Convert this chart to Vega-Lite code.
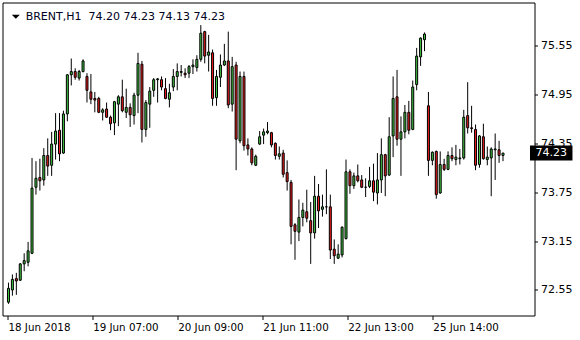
{
  "$schema": "https://vega.github.io/schema/vega-lite/v6.json",
  "width": 532,
  "height": 313,
  "autosize": {"type": "none"},
  "padding": {"left": 2.5, "top": 2.5, "right": 45.5, "bottom": 24.5},
  "background": "white",
  "config": {"font": "DejaVu Sans", "view": {"stroke": "black", "strokeWidth": 1}},
  "datasets": {
    "candles": [
      {"i":0,"o":72.40,"h":72.64,"l":72.38,"c":72.57},
      {"i":1,"o":72.55,"h":72.74,"l":72.48,"c":72.68},
      {"i":2,"o":72.69,"h":72.76,"l":72.49,"c":72.66},
      {"i":3,"o":72.67,"h":72.88,"l":72.66,"c":72.87},
      {"i":4,"o":72.87,"h":73.00,"l":72.78,"c":72.91},
      {"i":5,"o":72.89,"h":73.14,"l":72.84,"c":73.03},
      {"i":6,"o":73.00,"h":74.17,"l":72.99,"c":73.80},
      {"i":7,"o":73.81,"h":74.13,"l":73.72,"c":73.92},
      {"i":8,"o":73.93,"h":74.16,"l":73.77,"c":73.89},
      {"i":9,"o":73.90,"h":74.29,"l":73.83,"c":74.20},
      {"i":10,"o":74.20,"h":74.41,"l":73.95,"c":74.07},
      {"i":11,"o":74.08,"h":74.49,"l":73.95,"c":74.34},
      {"i":12,"o":74.34,"h":74.72,"l":74.15,"c":74.50},
      {"i":13,"o":74.51,"h":74.72,"l":74.13,"c":74.22},
      {"i":14,"o":74.23,"h":74.75,"l":74.22,"c":74.71},
      {"i":15,"o":74.71,"h":75.20,"l":74.62,"c":75.19},
      {"i":16,"o":75.19,"h":75.39,"l":75.06,"c":75.23},
      {"i":17,"o":75.23,"h":75.27,"l":75.13,"c":75.16},
      {"i":18,"o":75.15,"h":75.25,"l":75.12,"c":75.23},
      {"i":19,"o":75.23,"h":75.38,"l":75.22,"c":75.36},
      {"i":20,"o":75.17,"h":75.21,"l":74.85,"c":75.00},
      {"i":21,"o":74.98,"h":75.20,"l":74.83,"c":74.89},
      {"i":22,"o":74.90,"h":74.98,"l":74.73,"c":74.88},
      {"i":23,"o":74.90,"h":74.92,"l":74.72,"c":74.73},
      {"i":24,"o":74.73,"h":74.78,"l":74.63,"c":74.76},
      {"i":25,"o":74.77,"h":74.85,"l":74.66,"c":74.67},
      {"i":26,"o":74.67,"h":74.69,"l":74.51,"c":74.59},
      {"i":27,"o":74.60,"h":74.87,"l":74.45,"c":74.86},
      {"i":28,"o":74.83,"h":74.94,"l":74.56,"c":74.92},
      {"i":29,"o":74.92,"h":75.13,"l":74.73,"c":74.75},
      {"i":30,"o":74.73,"h":75.02,"l":74.66,"c":74.79},
      {"i":31,"o":74.79,"h":74.84,"l":74.55,"c":74.70},
      {"i":32,"o":74.69,"h":74.97,"l":74.58,"c":74.94},
      {"i":33,"o":74.94,"h":75.46,"l":74.72,"c":75.33},
      {"i":34,"o":75.32,"h":75.36,"l":74.36,"c":74.52},
      {"i":35,"o":74.52,"h":74.88,"l":74.43,"c":74.85},
      {"i":36,"o":74.83,"h":75.04,"l":74.54,"c":74.99},
      {"i":37,"o":75.00,"h":75.15,"l":74.92,"c":75.13},
      {"i":38,"o":75.13,"h":75.15,"l":74.85,"c":75.14},
      {"i":39,"o":75.13,"h":75.17,"l":75.00,"c":75.04},
      {"i":40,"o":75.02,"h":75.15,"l":74.89,"c":74.90},
      {"i":41,"o":74.89,"h":75.08,"l":74.79,"c":74.97},
      {"i":42,"o":75.04,"h":75.26,"l":74.99,"c":75.17},
      {"i":43,"o":75.17,"h":75.33,"l":75.00,"c":75.23},
      {"i":44,"o":75.22,"h":75.31,"l":75.17,"c":75.23},
      {"i":45,"o":75.21,"h":75.27,"l":75.15,"c":75.19},
      {"i":46,"o":75.21,"h":75.31,"l":75.15,"c":75.29},
      {"i":47,"o":75.29,"h":75.38,"l":75.20,"c":75.31},
      {"i":48,"o":75.28,"h":75.43,"l":75.23,"c":75.38},
      {"i":49,"o":75.38,"h":75.80,"l":75.35,"c":75.70},
      {"i":50,"o":75.72,"h":75.73,"l":75.33,"c":75.42},
      {"i":51,"o":75.43,"h":75.68,"l":75.23,"c":75.47},
      {"i":52,"o":75.46,"h":75.50,"l":74.81,"c":74.90},
      {"i":53,"o":74.91,"h":75.25,"l":74.81,"c":75.17},
      {"i":54,"o":75.16,"h":75.44,"l":75.04,"c":75.31},
      {"i":55,"o":75.31,"h":75.57,"l":75.30,"c":75.36},
      {"i":56,"o":75.36,"h":75.72,"l":74.78,"c":74.82},
      {"i":57,"o":74.83,"h":75.41,"l":74.74,"c":75.29},
      {"i":58,"o":75.31,"h":75.35,"l":74.02,"c":74.40},
      {"i":59,"o":74.38,"h":75.23,"l":74.35,"c":75.17},
      {"i":60,"o":75.17,"h":75.23,"l":74.26,"c":74.32},
      {"i":61,"o":74.33,"h":74.41,"l":74.20,"c":74.28},
      {"i":62,"o":74.28,"h":74.30,"l":74.08,"c":74.11},
      {"i":63,"o":74.08,"h":74.21,"l":74.07,"c":74.19},
      {"i":64,"o":74.34,"h":74.50,"l":74.33,"c":74.43},
      {"i":65,"o":74.45,"h":74.53,"l":74.34,"c":74.49},
      {"i":66,"o":74.48,"h":74.61,"l":74.46,"c":74.50},
      {"i":67,"o":74.48,"h":74.49,"l":74.30,"c":74.33},
      {"i":68,"o":74.35,"h":74.36,"l":74.15,"c":74.20},
      {"i":69,"o":74.19,"h":74.31,"l":74.15,"c":74.22},
      {"i":70,"o":74.23,"h":74.27,"l":73.93,"c":73.97},
      {"i":71,"o":73.99,"h":74.14,"l":73.77,"c":73.88},
      {"i":72,"o":73.87,"h":73.90,"l":73.11,"c":73.33},
      {"i":73,"o":73.35,"h":73.37,"l":72.92,"c":73.27},
      {"i":74,"o":73.26,"h":73.66,"l":73.15,"c":73.44},
      {"i":75,"o":73.44,"h":73.62,"l":73.33,"c":73.53},
      {"i":76,"o":73.51,"h":73.78,"l":73.38,"c":73.43},
      {"i":77,"o":73.40,"h":73.63,"l":72.87,"c":73.25},
      {"i":78,"o":73.25,"h":73.95,"l":73.18,"c":73.70},
      {"i":79,"o":73.70,"h":73.85,"l":73.31,"c":73.52},
      {"i":80,"o":73.54,"h":73.72,"l":73.45,"c":73.57},
      {"i":81,"o":73.57,"h":74.03,"l":73.48,"c":73.57},
      {"i":82,"o":73.57,"h":73.72,"l":72.93,"c":73.04},
      {"i":83,"o":73.05,"h":73.17,"l":72.87,"c":72.97},
      {"i":84,"o":72.94,"h":73.11,"l":72.93,"c":72.99},
      {"i":85,"o":72.98,"h":73.33,"l":72.95,"c":73.32},
      {"i":86,"o":73.18,"h":74.15,"l":73.17,"c":74.00},
      {"i":87,"o":74.00,"h":74.03,"l":73.73,"c":73.83},
      {"i":88,"o":73.83,"h":73.99,"l":73.79,"c":73.95},
      {"i":89,"o":73.95,"h":74.09,"l":73.87,"c":73.89},
      {"i":90,"o":73.90,"h":73.96,"l":73.80,"c":73.81},
      {"i":91,"o":73.81,"h":73.92,"l":73.69,"c":73.81},
      {"i":92,"o":73.82,"h":74.06,"l":73.80,"c":73.89},
      {"i":93,"o":73.89,"h":74.10,"l":73.64,"c":73.75},
      {"i":94,"o":73.74,"h":74.23,"l":73.60,"c":73.90},
      {"i":95,"o":73.90,"h":74.41,"l":73.74,"c":74.21},
      {"i":96,"o":74.21,"h":74.22,"l":73.70,"c":73.95},
      {"i":97,"o":73.96,"h":74.67,"l":73.95,"c":74.43},
      {"i":98,"o":74.44,"h":75.17,"l":74.18,"c":74.90},
      {"i":99,"o":74.92,"h":75.25,"l":74.32,"c":74.40},
      {"i":100,"o":74.40,"h":74.68,"l":73.95,"c":74.49},
      {"i":101,"o":74.49,"h":74.82,"l":74.41,"c":74.73},
      {"i":102,"o":74.73,"h":74.87,"l":74.46,"c":74.51},
      {"i":103,"o":74.52,"h":75.12,"l":74.51,"c":75.04},
      {"i":104,"o":75.07,"h":75.52,"l":75.00,"c":75.42},
      {"i":105,"o":75.41,"h":75.65,"l":75.30,"c":75.64},
      {"i":106,"o":75.62,"h":75.71,"l":75.48,"c":75.69},
      {"i":107,"o":74.81,"h":74.98,"l":73.95,"c":74.14},
      {"i":108,"o":74.14,"h":74.25,"l":74.08,"c":74.24},
      {"i":109,"o":74.25,"h":74.26,"l":73.67,"c":73.72},
      {"i":110,"o":73.74,"h":74.25,"l":73.73,"c":74.09},
      {"i":111,"o":74.09,"h":74.16,"l":74.01,"c":74.03},
      {"i":112,"o":74.03,"h":74.25,"l":74.02,"c":74.20},
      {"i":113,"o":74.20,"h":74.30,"l":74.13,"c":74.16},
      {"i":114,"o":74.15,"h":74.33,"l":74.08,"c":74.18},
      {"i":115,"o":74.16,"h":74.28,"l":74.09,"c":74.17},
      {"i":116,"o":74.17,"h":74.76,"l":74.15,"c":74.67},
      {"i":117,"o":74.69,"h":75.10,"l":74.47,"c":74.54},
      {"i":118,"o":74.54,"h":74.81,"l":74.48,"c":74.53},
      {"i":119,"o":74.52,"h":74.58,"l":74.02,"c":74.08},
      {"i":120,"o":74.09,"h":74.45,"l":74.05,"c":74.44},
      {"i":121,"o":74.43,"h":74.59,"l":74.15,"c":74.16},
      {"i":122,"o":74.15,"h":74.31,"l":74.08,"c":74.18},
      {"i":123,"o":74.17,"h":74.30,"l":73.70,"c":74.28},
      {"i":124,"o":74.27,"h":74.47,"l":73.90,"c":74.28},
      {"i":125,"o":74.27,"h":74.38,"l":74.11,"c":74.20},
      {"i":126,"o":74.20,"h":74.23,"l":74.13,"c":74.23}
    ]
  },
  "layer": [
    {
      "data": {"name": "candles"},
      "mark": {"type": "rule", "color": "black", "strokeWidth": 1},
      "encoding": {
        "x": {
          "field": "i", "type": "quantitative", "title": null,
          "scale": {"domain": [-0.25, 132.75], "nice": false, "zero": false},
          "axis": {
            "orient": "bottom", "domain": false, "grid": false,
            "values": [-0.125, 21.45, 43.125, 64.8, 86.45, 108.125],
            "labelExpr": "datum.value < 10 ? '18 Jun 2018' : datum.value < 30 ? '19 Jun 07:00' : datum.value < 50 ? '20 Jun 09:00' : datum.value < 70 ? '21 Jun 11:00' : datum.value < 95 ? '22 Jun 13:00' : '25 Jun 14:00'",
            "labelAlign": "left", "labelBaseline": "top", "labelFlush": false, "labelOverlap": false, "labelBound": false,
            "labelFont": "DejaVu Sans", "labelFontSize": 10.3, "labelColor": "black",
            "labelPadding": 3, "tickSize": 4, "tickColor": "black", "tickWidth": 1
          }
        },
        "y": {
          "field": "l", "type": "quantitative", "title": null,
          "scale": {"domain": [72.298, 76.016], "nice": false, "zero": false},
          "axis": {
            "orient": "right", "domain": false, "grid": false,
            "values": [72.55, 73.15, 73.75, 74.35, 74.95, 75.55],
            "format": ".2f",
            "labelFont": "DejaVu Sans", "labelFontSize": 11, "labelColor": "black",
            "labelPadding": 3, "tickSize": 3, "tickColor": "black", "tickWidth": 1
          }
        },
        "y2": {"field": "h"}
      }
    },
    {
      "data": {"name": "candles"},
      "mark": {"type": "bar", "size": 2, "stroke": "black", "strokeWidth": 1},
      "encoding": {
        "x": {"field": "i", "type": "quantitative", "title": null},
        "y": {"field": "o", "type": "quantitative", "title": null},
        "y2": {"field": "c"},
        "fill": {"condition": {"test": "datum.c >= datum.o", "value": "#40c440"}, "value": "#ec1c1c"}
      }
    },
    {
      "data": {"values": [{"price": 74.23, "label": "74.23"}]},
      "mark": {"type": "bar", "size": 15, "color": "black"},
      "encoding": {
        "x": {"datum": 132.875, "type": "quantitative", "title": null},
        "x2": {"datum": 143.7},
        "y": {"field": "price", "type": "quantitative", "title": null}
      }
    },
    {
      "data": {"values": [{"price": 74.23, "label": "74.23"}]},
      "mark": {"type": "text", "align": "left", "baseline": "middle", "color": "white", "fontSize": 11, "font": "DejaVu Sans"},
      "encoding": {
        "x": {"datum": 134.3, "type": "quantitative", "title": null},
        "y": {"field": "price", "type": "quantitative", "title": null},
        "text": {"field": "label"}
      }
    },
    {
      "data": {"values": [{"symbol": "BRENT,H1\u00a0 74.20 74.23 74.13 74.23"}]},
      "mark": {"type": "text", "align": "left", "baseline": "middle", "color": "#000020", "fontSize": 11, "font": "DejaVu Sans"},
      "encoding": {
        "x": {"datum": 4.375, "type": "quantitative", "title": null},
        "y": {"datum": 75.897, "type": "quantitative", "title": null},
        "text": {"field": "symbol"}
      }
    },
    {
      "data": {"values": [{"symbol": "menu"}]},
      "mark": {"type": "point", "shape": "M-1,-0.5L1,-0.5L0,0.5Z", "size": 64, "filled": true, "color": "black", "opacity": 1, "strokeWidth": 0},
      "encoding": {
        "x": {"datum": 1.875, "type": "quantitative", "title": null},
        "y": {"datum": 75.903, "type": "quantitative", "title": null}
      }
    }
  ]
}
